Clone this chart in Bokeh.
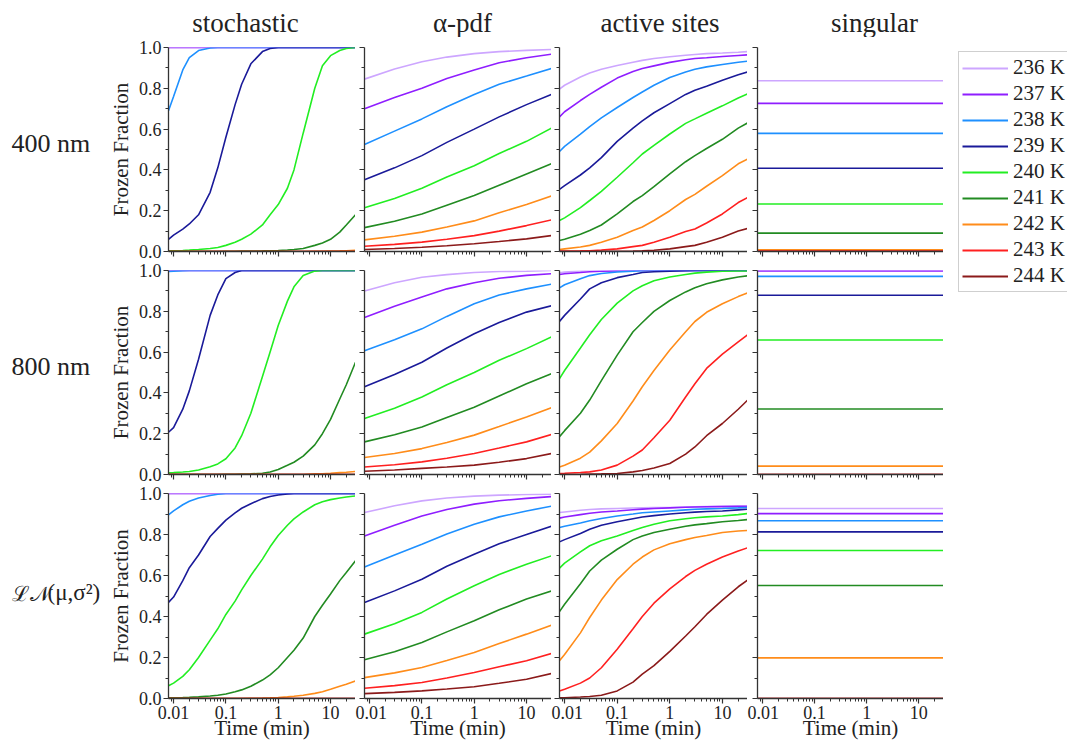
from bokeh.plotting import figure
from bokeh.layouts import column, row
from bokeh.models import (Range1d, FixedTicker, NumeralTickFormatter, CustomJSTickFormatter,
                          Legend, LegendItem)
from bokeh.core.properties import value
from bokeh.embed import file_html
from bokeh.resources import INLINE

# ---------------- data ----------------
temps = ["236 K", "237 K", "238 K", "239 K", "240 K", "241 K", "242 K", "243 K", "244 K"]
colors = ["#CDA6FF", "#8F1EFF", "#1E90FF", "#1A1A99", "#22EE22", "#228B22", "#FF8C1A", "#FF2020", "#8B1A1A"]
methods = ["stochastic", "α-pdf", "active sites", "singular"]
sizes = ["400 nm", "800 nm"]
ln_symbol = "ℒ𝒩"
ln_args = "(μ,σ²)"

t_fine = [0.008, 0.01, 0.015, 0.02, 0.03, 0.05, 0.07, 0.1, 0.15, 0.2, 0.3, 0.5, 0.7, 1, 1.5, 2, 3, 5, 7, 10, 15, 20, 30]
t_coarse = [0.008, 0.03, 0.1, 0.3, 1, 3, 10, 30]
t_mid = [0.008, 0.01, 0.02, 0.03, 0.05, 0.1, 0.2, 0.3, 0.5, 1, 2, 3, 5, 10, 20, 30]
t_span = [0.008, 30]

# ---- 400 nm ----
stoch_400 = [
    [1.0, 1.0, 1.0, 1.0, 1.0, 1.0, 1.0, 1.0, 1.0, 1.0, 1.0, 1.0, 1.0, 1.0, 1.0, 1.0, 1.0, 1.0, 1.0, 1.0, 1.0, 1.0, 1.0],
    [1.0, 1.0, 1.0, 1.0, 1.0, 1.0, 1.0, 1.0, 1.0, 1.0, 1.0, 1.0, 1.0, 1.0, 1.0, 1.0, 1.0, 1.0, 1.0, 1.0, 1.0, 1.0, 1.0],
    [0.69, 0.76, 0.89, 0.95, 0.985, 0.998, 1.0, 1.0, 1.0, 1.0, 1.0, 1.0, 1.0, 1.0, 1.0, 1.0, 1.0, 1.0, 1.0, 1.0, 1.0, 1.0, 1.0],
    [0.06, 0.08, 0.11, 0.135, 0.18, 0.29, 0.41, 0.56, 0.72, 0.82, 0.92, 0.98, 0.995, 1.0, 1.0, 1.0, 1.0, 1.0, 1.0, 1.0, 1.0, 1.0, 1.0],
    [0.003, 0.004, 0.005, 0.007, 0.01, 0.015, 0.02, 0.03, 0.045, 0.06, 0.085, 0.13, 0.18, 0.23, 0.31, 0.40, 0.58, 0.80, 0.91, 0.96, 0.985, 0.995, 1.0],
    [0.0, 0.0, 0.0, 0.0, 0.0, 0.0, 0.0, 0.001, 0.001, 0.002, 0.002, 0.003, 0.004, 0.005, 0.007, 0.01, 0.015, 0.03, 0.042, 0.06, 0.095, 0.13, 0.18],
    [0.0, 0.0, 0.0, 0.0, 0.0, 0.0, 0.0, 0.0, 0.0, 0.0, 0.0, 0.0, 0.0, 0.0, 0.0, 0.0, 0.0, 0.001, 0.001, 0.002, 0.003, 0.004, 0.006],
    [0.0, 0.0, 0.0, 0.0, 0.0, 0.0, 0.0, 0.0, 0.0, 0.0, 0.0, 0.0, 0.0, 0.0, 0.0, 0.0, 0.0, 0.0, 0.0, 0.0, 0.0, 0.0, 0.0],
    [0.0, 0.0, 0.0, 0.0, 0.0, 0.0, 0.0, 0.0, 0.0, 0.0, 0.0, 0.0, 0.0, 0.0, 0.0, 0.0, 0.0, 0.0, 0.0, 0.0, 0.0, 0.0, 0.0],
]
apdf_400 = [
    [0.845, 0.895, 0.93, 0.953, 0.97, 0.98, 0.986, 0.99],
    [0.70, 0.755, 0.80, 0.848, 0.89, 0.925, 0.95, 0.967],
    [0.524, 0.59, 0.65, 0.71, 0.77, 0.82, 0.86, 0.897],
    [0.352, 0.41, 0.47, 0.535, 0.60, 0.66, 0.72, 0.77],
    [0.214, 0.26, 0.31, 0.365, 0.42, 0.48, 0.54, 0.605],
    [0.117, 0.148, 0.184, 0.227, 0.274, 0.325, 0.38, 0.43],
    [0.057, 0.075, 0.095, 0.12, 0.15, 0.19, 0.23, 0.272],
    [0.026, 0.035, 0.046, 0.06, 0.078, 0.10, 0.127, 0.155],
    [0.01, 0.015, 0.021, 0.028, 0.038, 0.049, 0.062, 0.078],
]
active_400 = [
    [0.796, 0.815, 0.855, 0.875, 0.893, 0.912, 0.928, 0.937, 0.946, 0.955, 0.962, 0.966, 0.97, 0.973, 0.977, 0.98],
    [0.66, 0.685, 0.74, 0.77, 0.805, 0.85, 0.882, 0.897, 0.91, 0.927, 0.94, 0.946, 0.95, 0.956, 0.961, 0.964],
    [0.49, 0.515, 0.575, 0.612, 0.655, 0.706, 0.755, 0.782, 0.815, 0.853, 0.88, 0.893, 0.905, 0.917, 0.928, 0.933],
    [0.305, 0.323, 0.375, 0.41, 0.46, 0.54, 0.605, 0.64, 0.68, 0.725, 0.77, 0.79, 0.81, 0.84, 0.866, 0.88],
    [0.152, 0.165, 0.215, 0.25, 0.295, 0.364, 0.435, 0.478, 0.52, 0.576, 0.628, 0.65, 0.678, 0.714, 0.752, 0.773],
    [0.054, 0.06, 0.085, 0.103, 0.13, 0.184, 0.245, 0.274, 0.318, 0.38, 0.44, 0.47, 0.505, 0.55, 0.605, 0.63],
    [0.01, 0.013, 0.022, 0.03, 0.045, 0.07, 0.103, 0.12, 0.152, 0.20, 0.255, 0.28, 0.32, 0.372, 0.43, 0.453],
    [0.002, 0.002, 0.003, 0.004, 0.007, 0.013, 0.024, 0.03, 0.045, 0.07, 0.098, 0.11, 0.14, 0.184, 0.24, 0.264],
    [0.0, 0.0, 0.0, 0.0, 0.001, 0.001, 0.002, 0.003, 0.006, 0.013, 0.024, 0.03, 0.045, 0.07, 0.10, 0.113],
]
singular_400 = [0.837, 0.726, 0.579, 0.408, 0.233, 0.09, 0.008, 0.002, 0.0]

# ---- 800 nm ----
stoch_800 = [
    [1.0, 1.0, 1.0, 1.0, 1.0, 1.0, 1.0, 1.0, 1.0, 1.0, 1.0, 1.0, 1.0, 1.0, 1.0, 1.0, 1.0, 1.0, 1.0, 1.0, 1.0, 1.0, 1.0],
    [1.0, 1.0, 1.0, 1.0, 1.0, 1.0, 1.0, 1.0, 1.0, 1.0, 1.0, 1.0, 1.0, 1.0, 1.0, 1.0, 1.0, 1.0, 1.0, 1.0, 1.0, 1.0, 1.0],
    [0.995, 0.997, 0.999, 1.0, 1.0, 1.0, 1.0, 1.0, 1.0, 1.0, 1.0, 1.0, 1.0, 1.0, 1.0, 1.0, 1.0, 1.0, 1.0, 1.0, 1.0, 1.0, 1.0],
    [0.207, 0.23, 0.32, 0.41, 0.565, 0.78, 0.88, 0.96, 0.99, 1.0, 1.0, 1.0, 1.0, 1.0, 1.0, 1.0, 1.0, 1.0, 1.0, 1.0, 1.0, 1.0, 1.0],
    [0.008, 0.009, 0.012, 0.015, 0.022, 0.038, 0.052, 0.077, 0.13, 0.19, 0.30, 0.48, 0.60, 0.73, 0.85, 0.92, 0.975, 0.997, 1.0, 1.0, 1.0, 1.0, 1.0],
    [0.0, 0.0, 0.0, 0.0, 0.0, 0.0, 0.0, 0.0005, 0.001, 0.002, 0.003, 0.006, 0.012, 0.025, 0.045, 0.06, 0.09, 0.145, 0.20, 0.27, 0.37, 0.44, 0.55],
    [0.0, 0.0, 0.0, 0.0, 0.0, 0.0, 0.0, 0.0, 0.0, 0.0, 0.0, 0.0, 0.0, 0.0, 0.0, 0.0, 0.0, 0.003, 0.004, 0.006, 0.009, 0.011, 0.015],
    [0.0, 0.0, 0.0, 0.0, 0.0, 0.0, 0.0, 0.0, 0.0, 0.0, 0.0, 0.0, 0.0, 0.0, 0.0, 0.0, 0.0, 0.0, 0.0, 0.0, 0.0, 0.0, 0.0],
    [0.0, 0.0, 0.0, 0.0, 0.0, 0.0, 0.0, 0.0, 0.0, 0.0, 0.0, 0.0, 0.0, 0.0, 0.0, 0.0, 0.0, 0.0, 0.0, 0.0, 0.0, 0.0, 0.0],
]
apdf_800 = [
    [0.90, 0.94, 0.967, 0.98, 0.99, 0.995, 0.997, 1.0],
    [0.77, 0.825, 0.87, 0.91, 0.94, 0.962, 0.976, 0.984],
    [0.607, 0.66, 0.714, 0.775, 0.837, 0.88, 0.91, 0.933],
    [0.43, 0.49, 0.55, 0.62, 0.69, 0.745, 0.796, 0.827],
    [0.275, 0.325, 0.38, 0.44, 0.50, 0.56, 0.617, 0.674],
    [0.16, 0.195, 0.233, 0.28, 0.33, 0.385, 0.445, 0.494],
    [0.083, 0.103, 0.127, 0.157, 0.193, 0.235, 0.282, 0.328],
    [0.037, 0.048, 0.062, 0.08, 0.103, 0.13, 0.16, 0.196],
    [0.016, 0.022, 0.03, 0.037, 0.046, 0.06, 0.078, 0.103],
]
active_800 = [
    [0.989, 0.992, 0.997, 1.0, 1.0, 1.0, 1.0, 1.0, 1.0, 1.0, 1.0, 1.0, 1.0, 1.0, 1.0, 1.0],
    [0.98, 0.984, 0.99, 0.994, 0.996, 0.998, 1.0, 1.0, 1.0, 1.0, 1.0, 1.0, 1.0, 1.0, 1.0, 1.0],
    [0.915, 0.93, 0.96, 0.975, 0.985, 0.993, 0.997, 0.999, 1.0, 1.0, 1.0, 1.0, 1.0, 1.0, 1.0, 1.0],
    [0.75, 0.78, 0.86, 0.91, 0.94, 0.965, 0.98, 0.99, 0.994, 0.997, 0.999, 1.0, 1.0, 1.0, 1.0, 1.0],
    [0.47, 0.51, 0.62, 0.685, 0.76, 0.84, 0.90, 0.925, 0.95, 0.968, 0.98, 0.987, 0.992, 0.996, 0.998, 0.998],
    [0.185, 0.215, 0.30, 0.365, 0.46, 0.585, 0.70, 0.745, 0.80, 0.853, 0.895, 0.915, 0.935, 0.954, 0.968, 0.974],
    [0.037, 0.045, 0.08, 0.11, 0.165, 0.25, 0.36, 0.43, 0.51, 0.61, 0.70, 0.75, 0.795, 0.837, 0.872, 0.89],
    [0.005, 0.006, 0.01, 0.013, 0.022, 0.046, 0.09, 0.12, 0.18, 0.266, 0.38, 0.445, 0.52, 0.59, 0.65, 0.685],
    [0.0, 0.0, 0.001, 0.002, 0.003, 0.005, 0.013, 0.02, 0.032, 0.054, 0.10, 0.135, 0.19, 0.25, 0.32, 0.364],
]
singular_800 = [1.0, 0.998, 0.971, 0.879, 0.659, 0.321, 0.041, 0.0, 0.0]

# ---- log-normal ----
stoch_ln = [
    [1.0, 1.0, 1.0, 1.0, 1.0, 1.0, 1.0, 1.0, 1.0, 1.0, 1.0, 1.0, 1.0, 1.0, 1.0, 1.0, 1.0, 1.0, 1.0, 1.0, 1.0, 1.0, 1.0],
    [1.0, 1.0, 1.0, 1.0, 1.0, 1.0, 1.0, 1.0, 1.0, 1.0, 1.0, 1.0, 1.0, 1.0, 1.0, 1.0, 1.0, 1.0, 1.0, 1.0, 1.0, 1.0, 1.0],
    [0.896, 0.915, 0.945, 0.962, 0.978, 0.99, 0.996, 1.0, 1.0, 1.0, 1.0, 1.0, 1.0, 1.0, 1.0, 1.0, 1.0, 1.0, 1.0, 1.0, 1.0, 1.0, 1.0],
    [0.469, 0.495, 0.575, 0.638, 0.70, 0.79, 0.83, 0.87, 0.905, 0.928, 0.95, 0.975, 0.985, 0.993, 0.998, 1.0, 1.0, 1.0, 1.0, 1.0, 1.0, 1.0, 1.0],
    [0.062, 0.075, 0.108, 0.14, 0.20, 0.285, 0.34, 0.41, 0.475, 0.53, 0.60, 0.68, 0.74, 0.795, 0.845, 0.876, 0.91, 0.945, 0.96, 0.97, 0.978, 0.983, 0.988],
    [0.003, 0.004, 0.005, 0.006, 0.008, 0.012, 0.016, 0.022, 0.033, 0.042, 0.06, 0.09, 0.115, 0.15, 0.20, 0.235, 0.295, 0.40, 0.455, 0.51, 0.575, 0.615, 0.672],
    [0.0, 0.0, 0.0, 0.0, 0.0, 0.0, 0.0, 0.0, 0.0, 0.0, 0.001, 0.002, 0.003, 0.005, 0.008, 0.011, 0.016, 0.025, 0.033, 0.045, 0.06, 0.07, 0.086],
    [0.0, 0.0, 0.0, 0.0, 0.0, 0.0, 0.0, 0.0, 0.0, 0.0, 0.0, 0.0, 0.0, 0.0, 0.0, 0.0, 0.0, 0.0, 0.0, 0.0, 0.0, 0.0, 0.0],
    [0.0, 0.0, 0.0, 0.0, 0.0, 0.0, 0.0, 0.0, 0.0, 0.0, 0.0, 0.0, 0.0, 0.0, 0.0, 0.0, 0.0, 0.0, 0.0, 0.0, 0.0, 0.0, 0.0],
]
apdf_ln = [
    [0.907, 0.94, 0.964, 0.978, 0.987, 0.992, 0.995, 0.997],
    [0.793, 0.845, 0.89, 0.922, 0.948, 0.965, 0.976, 0.985],
    [0.642, 0.70, 0.753, 0.803, 0.85, 0.886, 0.915, 0.938],
    [0.468, 0.525, 0.582, 0.645, 0.704, 0.755, 0.80, 0.84],
    [0.314, 0.365, 0.42, 0.485, 0.55, 0.605, 0.655, 0.696],
    [0.189, 0.228, 0.273, 0.325, 0.379, 0.433, 0.485, 0.525],
    [0.102, 0.125, 0.151, 0.185, 0.224, 0.268, 0.314, 0.358],
    [0.05, 0.063, 0.078, 0.10, 0.127, 0.155, 0.184, 0.22],
    [0.024, 0.03, 0.037, 0.046, 0.057, 0.074, 0.094, 0.122],
]
active_ln = [
    [0.907, 0.91, 0.918, 0.922, 0.925, 0.927, 0.929, 0.93, 0.931, 0.932, 0.934, 0.935, 0.936, 0.937, 0.937, 0.937],
    [0.88, 0.885, 0.897, 0.904, 0.91, 0.915, 0.921, 0.924, 0.927, 0.93, 0.933, 0.934, 0.935, 0.936, 0.937, 0.937],
    [0.834, 0.84, 0.856, 0.867, 0.878, 0.89, 0.90, 0.906, 0.91, 0.915, 0.92, 0.923, 0.925, 0.927, 0.93, 0.932],
    [0.764, 0.775, 0.805, 0.826, 0.845, 0.862, 0.877, 0.885, 0.892, 0.90, 0.906, 0.909, 0.912, 0.915, 0.92, 0.923],
    [0.636, 0.66, 0.715, 0.745, 0.77, 0.793, 0.82, 0.834, 0.85, 0.867, 0.877, 0.882, 0.886, 0.89, 0.897, 0.902],
    [0.424, 0.46, 0.56, 0.622, 0.675, 0.728, 0.775, 0.793, 0.81, 0.826, 0.84, 0.847, 0.853, 0.862, 0.868, 0.873],
    [0.184, 0.215, 0.32, 0.395, 0.48, 0.58, 0.655, 0.69, 0.725, 0.755, 0.775, 0.785, 0.795, 0.81, 0.817, 0.82],
    [0.037, 0.045, 0.075, 0.10, 0.15, 0.24, 0.34, 0.40, 0.465, 0.535, 0.595, 0.625, 0.655, 0.69, 0.72, 0.735],
    [0.003, 0.004, 0.007, 0.01, 0.016, 0.037, 0.08, 0.119, 0.16, 0.23, 0.305, 0.35, 0.41, 0.48, 0.545, 0.577],
]
singular_ln = [0.927, 0.902, 0.867, 0.813, 0.722, 0.551, 0.198, 0.0, 0.0]

panels = [
    [(t_fine, stoch_400), (t_coarse, apdf_400), (t_mid, active_400), (t_span, singular_400)],
    [(t_fine, stoch_800), (t_coarse, apdf_800), (t_mid, active_800), (t_span, singular_800)],
    [(t_fine, stoch_ln), (t_coarse, apdf_ln), (t_mid, active_ln), (t_span, singular_ln)],
]

# ---------------- layout / style ----------------
FONT = "Liberation Serif"
AX = "#333333"
TXT = "#222222"
frame_w = [187, 187, 188, 186]
frame_h = [204, 204, 205]
b_left = [63, 9, 8, 10]
b_top = [10, 9, 9]
b_bottom = [10, 10, 44]
TOP_H = 37

x_major = [0.01, 0.1, 1, 10]
x_minor = [0.009, 0.02, 0.03, 0.04, 0.05, 0.06, 0.07, 0.08, 0.09,
           0.2, 0.3, 0.4, 0.5, 0.6, 0.7, 0.8, 0.9,
           2, 3, 4, 5, 6, 7, 8, 9, 20, 30]
blank = CustomJSTickFormatter(code="return ''")


def strip(w, h, xr, yr):
    s = figure(frame_width=w, frame_height=h, x_range=xr, y_range=yr,
               output_backend="svg", toolbar_location=None, title=None,
               x_axis_location=None, y_axis_location=None, min_border=0)
    s.outline_line_color = None
    s.xgrid.visible = False
    s.ygrid.visible = False
    return s


def make_panel(r, c):
    p = figure(frame_width=frame_w[c], frame_height=frame_h[r],
               x_axis_type="log", x_range=Range1d(0.008, 30), y_range=Range1d(0, 1),
               output_backend="svg", toolbar_location=None, title=None,
               min_border_left=b_left[c], min_border_right=0,
               min_border_top=b_top[r], min_border_bottom=b_bottom[r])
    p.outline_line_color = None
    p.xgrid.visible = False
    p.ygrid.visible = False
    p.background_fill_color = "white"
    p.border_fill_color = "white"

    for ax in (p.xaxis[0], p.yaxis[0]):
        ax.axis_line_color = AX
        ax.axis_line_width = 1.3
        ax.major_tick_line_color = AX
        ax.minor_tick_line_color = AX
        ax.major_tick_line_width = 1.2
        ax.minor_tick_line_width = 1.0
        ax.major_tick_in = 0
        ax.minor_tick_in = 0
        ax.major_tick_out = 5
        ax.minor_tick_out = 3
        ax.major_label_text_font = FONT
        ax.major_label_text_font_size = "18px"
        ax.major_label_text_color = TXT

    xa = p.xaxis[0]
    xa.ticker = FixedTicker(ticks=x_major, minor_ticks=x_minor)
    if r == 2:
        xa.formatter = NumeralTickFormatter(format="0.[00]")
        xa.major_label_standoff = 2
        xa.axis_label = "Time (min)"
        xa.axis_label_text_font = FONT
        xa.axis_label_text_font_size = "21px"
        xa.axis_label_text_font_style = "normal"
        xa.axis_label_text_color = TXT
        xa.axis_label_standoff = -6
    else:
        xa.formatter = blank
        xa.major_label_standoff = 0

    ya = p.yaxis[0]
    ya.ticker = FixedTicker(ticks=[0.0, 0.2, 0.4, 0.6, 0.8, 1.0], minor_ticks=[0.1, 0.3, 0.5, 0.7, 0.9])
    if c == 0:
        ya.formatter = NumeralTickFormatter(format="0.0")
        ya.major_label_standoff = 2
        ya.axis_label = "Frozen Fraction"
        ya.axis_label_text_font = FONT
        ya.axis_label_text_font_size = "21px"
        ya.axis_label_text_font_style = "normal"
        ya.axis_label_text_color = TXT
        ya.axis_label_standoff = 3
    else:
        ya.formatter = blank
        ya.major_label_standoff = 0

    times, series = panels[r][c]
    for i in range(len(temps)):
        ys = series[i]
        if isinstance(ys, (int, float)):
            ys = [ys, ys]
        p.line(times, ys, line_color=colors[i], line_width=1.6)
    return p


# top strip with the column titles (screen-like coordinates)
top = strip(838, TOP_H, Range1d(105, 943), Range1d(TOP_H, 0))
top.text(x=[245, 462, 659.5, 874], y=[22, 22, 22, 22], text=methods, text_font=value(FONT),
         text_font_size=value("27px"), text_align="center", text_baseline="alphabetic",
         text_color=TXT)

# left strip with the row labels
left = strip(105, 742, Range1d(0, 105), Range1d(742, 0))
left.text(x=[11, 11], y=[143, 366], text=sizes, text_font=value(FONT),
          text_font_size=value("26px"), text_align="left", text_baseline="alphabetic",
          text_color=TXT)
left.text(x=[11], y=[593], text=[ln_symbol], text_font=value(FONT),
          text_font_size=value("21px"), text_align="left", text_baseline="alphabetic",
          text_color=TXT)
left.text(x=[47], y=[592], text=[ln_args], text_font=value(FONT),
          text_font_size=value("23px"), text_align="left", text_baseline="alphabetic",
          text_color=TXT)

# right strip with the legend (its lines lie outside the strip's visible range)
right = strip(124, 742, Range1d(0, 1), Range1d(5, 6))
items = []
for i in range(len(temps)):
    rr = right.line(t_span, [singular_400[i], singular_400[i]], line_color=colors[i], line_width=1.8)
    items.append(LegendItem(label=temps[i], renderers=[rr]))
leg = Legend(items=items, location=(15, 450), orientation="vertical",
             label_text_font=FONT, label_text_font_size="21px", label_text_color=TXT,
             glyph_width=46, glyph_height=20, label_height=20, label_standoff=5,
             spacing=1, padding=3, margin=0,
             border_line_color="#A0A0A0", border_line_width=1,
             background_fill_color="white", background_fill_alpha=1.0)
right.add_layout(leg)

rows = [row(*[make_panel(r, c) for c in range(4)]) for r in range(3)]
layout = row(left, column(top, *rows), right)

open("out.html", "w").write(file_html(layout, INLINE))
